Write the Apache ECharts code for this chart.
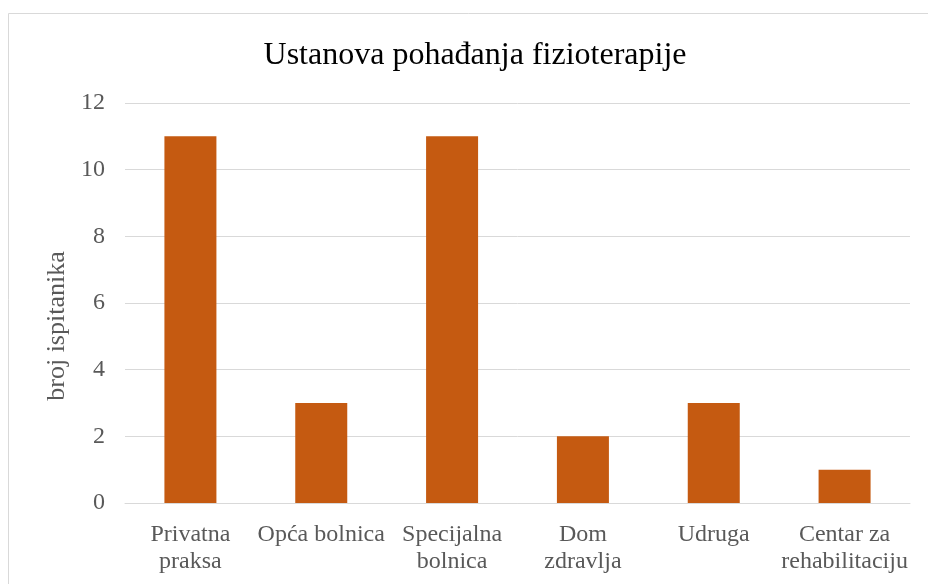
<!DOCTYPE html>
<html>
<head>
<meta charset="utf-8">
<script src="https://cdn.jsdelivr.net/npm/echarts@6/dist/echarts.min.js"></script>
<style>
  html, body { margin: 0; padding: 0; background: #fff; }
  #chart { width: 928px; height: 584px; }
</style>
</head>
<body>
<div id="chart"></div>
<script>
// podaci
var categories = ['Privatna\npraksa', 'Opća bolnica', 'Specijalna\nbolnica', 'Dom\nzdravlja', 'Udruga', 'Centar za\nrehabilitaciju'];
var values = [11, 3, 11, 2, 3, 1];
var yTicks = { min: 0, max: 12, interval: 2 };

var serif = '"Liberation Serif", "Times New Roman", serif';
var chart = echarts.init(document.getElementById('chart'));

var option = {
  backgroundColor: '#ffffff',
  animation: false,
  title: {
    text: 'Ustanova pohađanja fizioterapije',
    left: 470,
    textAlign: 'center',
    top: 35,
    textStyle: { fontFamily: serif, fontSize: 32, fontWeight: 'normal', color: '#000' }
  },
  graphic: [{
    type: 'rect',
    shape: { x: 8.5, y: 13.5, width: 940, height: 600 },
    style: { fill: 'none', stroke: '#d9d9d9', lineWidth: 1 },
    silent: true
  }],
  grid: { left: 125, right: 18, top: 103, bottom: 81 },
  xAxis: {
    type: 'category',
    data: categories,
    axisLine: { lineStyle: { color: '#d9d9d9' } },
    axisTick: { show: false },
    axisLabel: { fontFamily: serif, fontSize: 24, color: '#595959', margin: 18, lineHeight: 27, interval: 0 }
  },
  yAxis: {
    type: 'value',
    min: yTicks.min,
    max: yTicks.max,
    interval: yTicks.interval,
    name: 'broj ispitanika',
    nameLocation: 'middle',
    nameGap: 55,
    nameTextStyle: { fontFamily: serif, fontSize: 26, color: '#595959', padding: [0, 46, 0, 0] },
    axisLine: { show: false },
    axisTick: { show: false },
    axisLabel: { fontFamily: serif, fontSize: 24, color: '#595959', margin: 20 },
    splitLine: { lineStyle: { color: '#d9d9d9' } }
  },
  series: [{
    type: 'bar',
    data: values,
    barWidth: 52,
    itemStyle: { color: '#c55a11' }
  }]
};

chart.setOption(option);
</script>
</body>
</html>
